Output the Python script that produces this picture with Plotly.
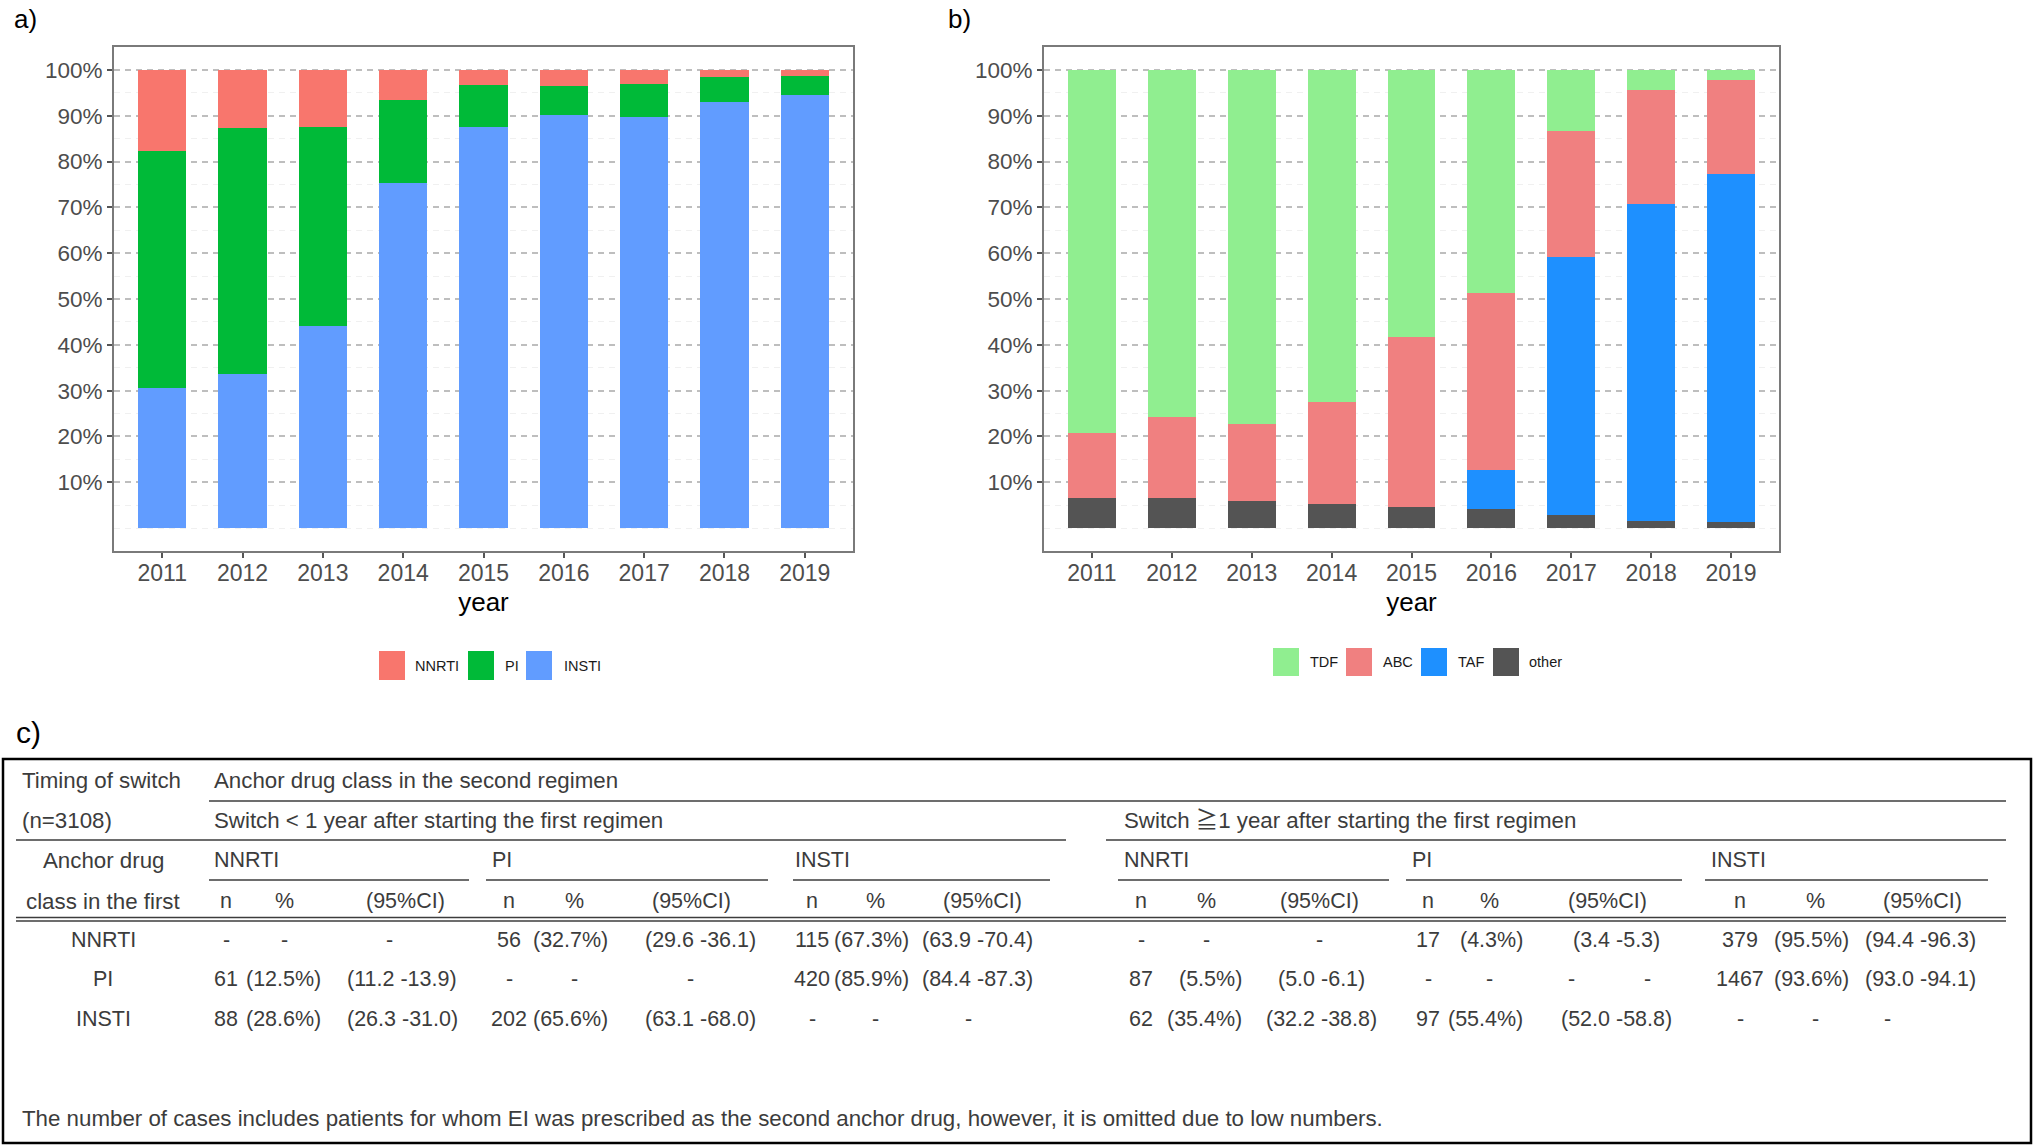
import plotly.graph_objects as go

# ---------------- data ----------------
years = ["2011", "2012", "2013", "2014", "2015", "2016", "2017", "2018", "2019"]

# panel a) anchor drug class (%)
a_names = ["INSTI", "PI", "NNRTI"]            # bottom -> top
a_insti = [30.5, 33.7, 44.1, 75.4, 87.6, 90.1, 89.7, 92.9, 94.6]
a_pi    = [51.8, 53.6, 43.5, 18.1, 9.0, 6.3, 7.2, 5.6, 4.1]
a_nnrti = [17.7, 12.7, 12.4, 6.5, 3.4, 3.6, 3.1, 1.5, 1.3]
a_colors = ["#619CFF", "#00BA38", "#F8766D"]
a_legend_order = ["NNRTI", "PI", "INSTI"]

# panel b) backbone (%)
b_names = ["other", "TAF", "ABC", "TDF"]       # bottom -> top
b_other = [6.6, 6.6, 6.0, 5.3, 4.5, 4.2, 2.9, 1.6, 1.4]
b_taf   = [0, 0, 0, 0, 0, 8.4, 56.3, 69.1, 75.8]
b_abc   = [14.1, 17.7, 16.8, 22.2, 37.1, 38.7, 27.5, 25.0, 20.5]
b_tdf   = [79.3, 75.7, 77.2, 72.5, 58.4, 48.7, 13.3, 4.3, 2.3]
b_colors = ["#545454", "#1E90FF", "#F08080", "#90EE90"]
b_legend_order = ["TDF", "ABC", "TAF", "other"]

y_ticks = [10, 20, 30, 40, 50, 60, 70, 80, 90, 100]
y_minor = [0, 5, 15, 25, 35, 45, 55, 65, 75, 85, 95]

# panel c) table
row_labels = ["NNRTI", "PI", "INSTI"]
group_names = ["NNRTI", "PI", "INSTI"]
# switch < 1 year
lt1_n   = [["-", "61", "88"], ["56", "-", "202"], ["115", "420", "-"]]
lt1_pct = [["-", "(12.5%)", "(28.6%)"], ["(32.7%)", "-", "(65.6%)"], ["(67.3%)", "(85.9%)", "-"]]
lt1_ci  = [["-", "(11.2 -13.9)", "(26.3 -31.0)"], ["(29.6 -36.1)", "-", "(63.1 -68.0)"],
           ["(63.9 -70.4)", "(84.4 -87.3)", "-"]]
# switch >= 1 year
ge1_n   = [["-", "87", "62"], ["17", "-", "97"], ["379", "1467", "-"]]
ge1_pct = [["-", "(5.5%)", "(35.4%)"], ["(4.3%)", "-", "(55.4%)"], ["(95.5%)", "(93.6%)", "-"]]
ge1_ci  = [["-", "(5.0 -6.1)", "(32.2 -38.8)"], ["(3.4 -5.3)", "- -", "(52.0 -58.8)"],
           ["(94.4 -96.3)", "(93.0 -94.1)", "-"]]
footnote = ("The number of cases includes patients for whom EI was prescribed as the second "
            "anchor drug, however, it is omitted due to low numbers.")

# ---------------- layout helpers ----------------
W, H = 2034, 1146


def px(x):
    return x / W


def py(y):
    return 1 - y / H


fig = go.Figure()

for name, vals, col in zip(a_names, [a_insti, a_pi, a_nnrti], a_colors):
    fig.add_trace(go.Bar(x=years, y=vals, name=name, marker_color=col,
                         marker_line_width=0, xaxis="x", yaxis="y", showlegend=False))
for name, vals, col in zip(b_names, [b_other, b_taf, b_abc, b_tdf], b_colors):
    fig.add_trace(go.Bar(x=years, y=vals, name=name, marker_color=col,
                         marker_line_width=0, xaxis="x2", yaxis="y2", showlegend=False))

tick_font = dict(family="Liberation Sans, Arial, sans-serif", size=23, color="#4D4D4D")
xaxis_common = dict(type="category", range=[-0.6, 8.6], showgrid=False, zeroline=False,
                    showline=True, mirror=True, linecolor="#7A7A7A", linewidth=2,
                    ticks="outside", ticklen=5, tickcolor="#555555", tickwidth=1.5,
                    ticklabelstandoff=-5,
                    tickfont=tick_font,
                    title=dict(text="year", standoff=8,
                               font=dict(family="Liberation Sans, Arial, sans-serif",
                                         size=26, color="#000000")))
yaxis_common = dict(range=[-5, 105], tickvals=y_ticks, ticktext=[f"{v}%" for v in y_ticks],
                    showgrid=True, gridcolor="#BEBEBE", gridwidth=1.5, griddash="6px,5px",
                    minor=dict(tickvals=y_minor, showgrid=True, gridcolor="#F0F0F0", gridwidth=1.2),
                    zeroline=False, showline=True, mirror=True, linecolor="#7A7A7A", linewidth=2,
                    ticks="outside", ticklen=5, tickcolor="#555555", tickwidth=1.5,
                    tickfont=dict(family="Liberation Sans, Arial, sans-serif", size=22.5,
                                  color="#4D4D4D"))

fig.update_layout(
    width=W, height=H, autosize=False,
    margin=dict(l=0, r=0, t=0, b=0),
    paper_bgcolor="white", plot_bgcolor="white",
    barmode="stack", bargap=0.4,
    xaxis=dict(domain=[px(114), px(853)], anchor="y", **xaxis_common),
    yaxis=dict(domain=[py(551), py(47)], anchor="x", **yaxis_common),
    xaxis2=dict(domain=[px(1044), px(1779)], anchor="y2", **xaxis_common),
    yaxis2=dict(domain=[py(551), py(47)], anchor="x2", **yaxis_common),
)

shapes = []
annots = []


def text(x, y, s, anchor="left", font=None):
    annots.append(dict(x=px(x), y=py(y), xref="paper", yref="paper", text=s, showarrow=False,
                       xanchor=anchor, yanchor="middle", font=font, align=anchor))


def hline(x0, x1, y, width=1.6, color="#3c3c3c"):
    shapes.append(dict(type="line", xref="paper", yref="paper", x0=px(x0), x1=px(x1),
                       y0=py(y), y1=py(y), line=dict(color=color, width=width)))


# panel letters
lab_font = dict(family="Liberation Sans, Arial, sans-serif", size=26, color="#000000")
text(12, 19, "a)", font=lab_font)
text(946, 19, "b)", font=lab_font)
text(14, 732, "c)", font=dict(family="Liberation Sans, Arial, sans-serif", size=30, color="#000000"))

# manual legends (large keys like ggplot)
leg_font = dict(family="Liberation Sans, Arial, sans-serif", size=14.5, color="#1a1a1a")
a_col_map = dict(zip(a_names, a_colors))
for name, kx, tx in zip(a_legend_order, [379, 468, 526], [413, 503, 562]):
    shapes.append(dict(type="rect", xref="paper", yref="paper", x0=px(kx), x1=px(kx + 26),
                       y0=py(680), y1=py(651), fillcolor=a_col_map[name], line=dict(width=0)))
    text(tx, 666, name, font=leg_font)
b_col_map = dict(zip(b_names, b_colors))
for name, kx, tx in zip(b_legend_order, [1273, 1346, 1421, 1493], [1308, 1381, 1456, 1527]):
    shapes.append(dict(type="rect", xref="paper", yref="paper", x0=px(kx), x1=px(kx + 26),
                       y0=py(676), y1=py(648), fillcolor=b_col_map[name], line=dict(width=0)))
    text(tx, 662, name, font=leg_font)

# ---------------- table ----------------
tf = dict(family="Liberation Sans, Noto Sans CJK JP, sans-serif", size=21.5, color="#3c3c3c")
tfp = dict(family="Liberation Sans, Noto Sans CJK JP, sans-serif", size=22.3, color="#3c3c3c")
shapes.append(dict(type="rect", xref="paper", yref="paper", x0=px(3), x1=px(2031),
                   y0=py(1143), y1=py(759), line=dict(color="#000000", width=2.5)))
hline(209, 2006, 801)
hline(16, 1066, 840)
hline(1106, 2006, 840)
for x0, x1 in [(209, 469), (486, 768), (793, 1050), (1118, 1389), (1406, 1682), (1705, 1988)]:
    hline(x0, x1, 880)
hline(16, 2006, 917.5, width=1.4)
hline(16, 2006, 921, width=1.4)

Y1, Y2, Y3, Y4 = 780, 820, 860, 901
ROWS_Y = [940, 979, 1019]
text(20, Y1, "Timing of switch", font=tfp)
text(20, Y2, "(n=3108)", font=tfp)
text(103, Y3, "Anchor drug", anchor="center", font=tfp)
text(103, Y4, "class in the first", anchor="center", font=tfp)
for lab, yy in zip(row_labels, ROWS_Y):
    text(103, yy, lab, anchor="center", font=tf)
text(212, Y1, "Anchor drug class in the second regimen", font=tfp)
text(212, Y2, "Switch &lt; 1 year after starting the first regimen", font=tfp)
text(1122, Y2, "Switch ≧1 year after starting the first regimen", font=tfp)

# column geometry per group: header_left, n_x, pct_hdr_x, pct_right, ci_x, ci_hdr_x, ci_dash_x
geo_lt1 = [(212, 226, 284, 323, 402, 405, 389),
           (490, 509, 574, 610, 700, 691, 690),
           (793, 812, 875, 911, 977, 982, 968)]
geo_ge1 = [(1122, 1141, 1206, 1244, 1321, 1319, 1319),
           (1410, 1428, 1489, 1525, 1616, 1607, 1609),
           (1709, 1740, 1815, 1851, 1920, 1922, 1887)]


def draw_block(geo, n_tab, pct_tab, ci_tab):
    for g, (hl, nx, phx, pr, cx, chx, cdx) in enumerate(geo):
        text(hl, Y3, group_names[g], font=tf)
        text(nx, Y4, "n", anchor="center", font=tf)
        text(phx, Y4, "%", anchor="center", font=tf)
        text(chx, Y4, "(95%CI)", anchor="center", font=tf)
        for r, yy in enumerate(ROWS_Y):
            text(nx, yy, n_tab[g][r], anchor="center", font=tf)
            p = pct_tab[g][r]
            if p == "-":
                text(phx, yy, p, anchor="center", font=tf)
            else:
                text(pr, yy, p, anchor="right", font=tf)
            c = ci_tab[g][r]
            if c == "-":
                text(cdx, yy, c, anchor="center", font=tf)
            elif c == "- -":
                text(cdx - 38, yy, "-", anchor="center", font=tf)
                text(cdx + 38, yy, "-", anchor="center", font=tf)
            else:
                text(cx, yy, c, anchor="center", font=tf)


draw_block(geo_lt1, lt1_n, lt1_pct, lt1_ci)
draw_block(geo_ge1, ge1_n, ge1_pct, ge1_ci)
text(20, 1118, footnote, font=tfp)

fig.update_layout(shapes=shapes, annotations=annots)

fig.write_html("out.html", config={"displayModeBar": False},
               post_script="document.body.style.margin='0';document.body.style.overflow='hidden';")
